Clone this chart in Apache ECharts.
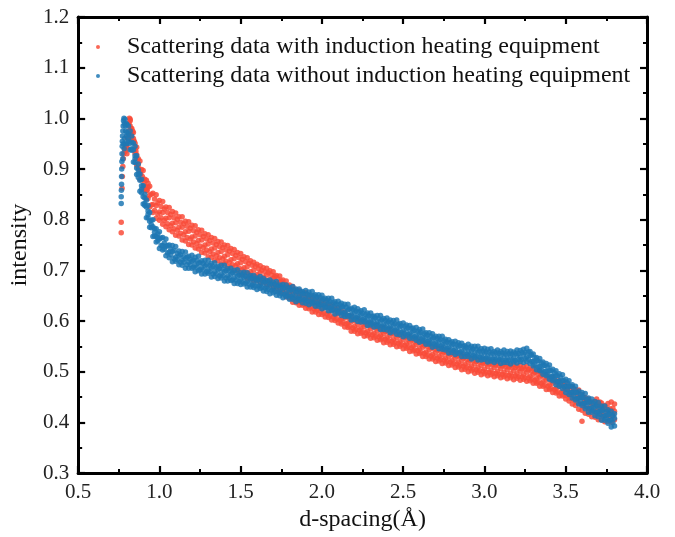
<!DOCTYPE html>
<html>
<head>
<meta charset="utf-8">
<script src="https://cdn.jsdelivr.net/npm/echarts@6/dist/echarts.min.js"></script>
<style>html,body{margin:0;padding:0;background:#fff}#c{width:675px;height:537px}</style>
</head>
<body>
<div id="c"></div>
<script>
// d-spacing sample grids (Å)
const dGrid = [
0.80,0.82,0.84,0.86,0.88,0.90,0.92,0.94,0.96,0.98,
1.00,1.02,1.04,1.06,1.08,1.10,1.12,1.14,1.16,1.18,
1.20,1.22,1.24,1.26,1.28,1.30,1.32,1.34,1.36,1.38,
1.40,1.42,1.44,1.46,1.48,1.50,1.52,1.54,1.56,1.58,
1.60,1.62,1.64,1.66,1.68,1.70,1.72,1.74,1.76,1.78,
1.80,1.82,1.84,1.86,1.88,1.90,1.92,1.94,1.96,1.98,
2.00,2.02,2.04,2.06,2.08,2.10,2.12,2.14,2.16,2.18,
2.20,2.22,2.24,2.26,2.28,2.30,2.32,2.34,2.36,2.38,
2.40,2.42,2.44,2.46,2.48,2.50,2.52,2.54,2.56,2.58,
2.60,2.62,2.64,2.66,2.68,2.70,2.72,2.74,2.76,2.78,
2.80,2.82,2.84,2.86,2.88,2.90,2.92,2.94,2.96,2.98,
3.00,3.02,3.04,3.06,3.08,3.10,3.12,3.14,3.16,3.18,
3.20,3.22,3.24,3.26,3.28,3.30,3.32,3.34,3.36,3.38,
3.40,3.42,3.44,3.46,3.48,3.50,3.52,3.54,3.56,3.58,
3.60,3.62,3.64,3.66,3.68,3.70,3.72,3.74,3.76,3.78,
3.80];
const dGridB = [
0.81,0.83,0.85,0.87,0.89,0.91,0.93,0.95,0.97,0.99,
1.01,1.03,1.05,1.07,1.09,1.11,1.13,1.15,1.17,1.19,
1.21,1.23,1.25,1.27,1.29,1.31,1.33,1.35,1.37,1.39,
1.41,1.43,1.45,1.47,1.49,1.51,1.53,1.55,1.57,1.59,
1.61,1.63,1.65,1.67,1.69,1.71,1.73,1.75,1.77,1.79,
1.81,1.83,1.85,1.87,1.89,1.91,1.93,1.95,1.97,1.99,
2.01,2.03,2.05,2.07,2.09,2.11,2.13,2.15,2.17,2.19,
2.21,2.23,2.25,2.27,2.29,2.31,2.33,2.35,2.37,2.39,
2.41,2.43,2.45,2.47,2.49,2.51,2.53,2.55,2.57,2.59,
2.61,2.63,2.65,2.67,2.69,2.71,2.73,2.75,2.77,2.79,
2.81,2.83,2.85,2.87,2.89,2.91,2.93,2.95,2.97,2.99,
3.01,3.03,3.05,3.07,3.09,3.11,3.13,3.15,3.17,3.19,
3.21,3.23,3.25,3.27,3.29,3.31,3.33,3.35,3.37,3.39,
3.41,3.43,3.45,3.47,3.49,3.51,3.53,3.55,3.57,3.59,
3.61,3.63,3.65,3.67,3.69,3.71,3.73,3.75,3.77,3.79];

// Scattering data WITH induction heating equipment (red)
const redUpper = [
0.962,0.998,0.972,0.943,0.916,0.897,0.878,0.866,0.852,0.849,
0.838,0.836,0.825,0.824,0.816,0.813,0.806,0.806,0.797,0.796,
0.789,0.788,0.780,0.779,0.772,0.770,0.765,0.763,0.757,0.756,
0.750,0.749,0.743,0.741,0.735,0.733,0.727,0.725,0.719,0.716,
0.712,0.709,0.705,0.704,0.699,0.697,0.690,0.689,0.681,0.679,
0.671,0.668,0.661,0.660,0.655,0.656,0.649,0.648,0.642,0.643,
0.638,0.638,0.632,0.632,0.626,0.626,0.619,0.618,0.611,0.610,
0.604,0.605,0.600,0.600,0.595,0.596,0.591,0.592,0.587,0.587,
0.582,0.583,0.578,0.579,0.574,0.575,0.570,0.570,0.565,0.565,
0.560,0.560,0.554,0.555,0.549,0.550,0.545,0.546,0.541,0.542,
0.537,0.538,0.533,0.534,0.529,0.530,0.526,0.527,0.523,0.524,
0.520,0.522,0.518,0.520,0.516,0.518,0.514,0.516,0.512,0.514,
0.511,0.513,0.509,0.511,0.506,0.507,0.501,0.501,0.495,0.495,
0.489,0.489,0.482,0.482,0.476,0.476,0.471,0.470,0.465,0.464,
0.455,0.449,0.446,0.440,0.441,0.436,0.438,0.433,0.437,0.440,
0.436];
const redHi2 = [
0.988,0.980,0.951,0.920,0.899,0.880,0.864,0.850,0.841,0.833,
0.826,0.821,0.814,0.810,0.804,0.801,0.795,0.792,0.787,0.783,
0.778,0.775,0.770,0.767,0.762,0.759,0.754,0.751,0.747,0.745,
0.740,0.738,0.733,0.730,0.725,0.722,0.717,0.714,0.710,0.708,
0.703,0.700,0.697,0.695,0.691,0.688,0.683,0.679,0.673,0.669,
0.663,0.659,0.654,0.653,0.649,0.647,0.643,0.640,0.637,0.636,
0.632,0.630,0.626,0.624,0.620,0.618,0.613,0.610,0.605,0.602,
0.599,0.598,0.594,0.593,0.590,0.589,0.586,0.585,0.581,0.580,
0.577,0.576,0.573,0.572,0.569,0.568,0.564,0.563,0.559,0.558,
0.554,0.552,0.549,0.547,0.544,0.543,0.540,0.539,0.536,0.535,
0.532,0.531,0.528,0.527,0.524,0.523,0.521,0.520,0.518,0.517,
0.515,0.515,0.513,0.513,0.511,0.511,0.509,0.509,0.507,0.508,
0.506,0.506,0.504,0.504,0.501,0.499,0.495,0.493,0.489,0.487,
0.483,0.481,0.476,0.474,0.470,0.468,0.463,0.460,0.455,0.452,
0.447,0.444,0.439,0.437,0.433,0.432,0.429,0.428,0.427,0.428];
const redMid = [
0.945,0.985,0.955,0.928,0.895,0.880,0.857,0.848,0.830,0.828,
0.815,0.814,0.803,0.804,0.793,0.794,0.785,0.785,0.776,0.777,
0.766,0.768,0.759,0.760,0.750,0.752,0.742,0.744,0.735,0.737,
0.728,0.731,0.721,0.723,0.713,0.715,0.705,0.707,0.697,0.700,
0.692,0.695,0.687,0.691,0.682,0.684,0.674,0.676,0.665,0.666,
0.655,0.655,0.645,0.648,0.640,0.643,0.634,0.636,0.627,0.631,
0.623,0.626,0.617,0.620,0.611,0.614,0.604,0.606,0.596,0.598,
0.589,0.593,0.585,0.588,0.580,0.584,0.576,0.580,0.572,0.575,
0.567,0.571,0.563,0.567,0.559,0.563,0.555,0.558,0.550,0.553,
0.545,0.548,0.539,0.543,0.534,0.538,0.530,0.534,0.526,0.530,
0.522,0.526,0.518,0.522,0.514,0.518,0.511,0.515,0.508,0.512,
0.505,0.510,0.503,0.508,0.501,0.506,0.499,0.504,0.497,0.502,
0.496,0.501,0.494,0.499,0.491,0.495,0.486,0.489,0.480,0.483,
0.474,0.477,0.467,0.470,0.461,0.464,0.454,0.456,0.446,0.448,
0.436,0.440,0.428,0.432,0.422,0.427,0.421,0.425,0.418,0.424,
0.422];
const redLo2 = [
0.962,0.962,0.931,0.902,0.879,0.860,0.842,0.829,0.818,0.811,
0.804,0.799,0.792,0.788,0.782,0.779,0.773,0.770,0.765,0.762,
0.756,0.753,0.748,0.745,0.740,0.737,0.732,0.729,0.725,0.723,
0.718,0.716,0.711,0.709,0.704,0.701,0.697,0.693,0.690,0.688,
0.686,0.684,0.681,0.679,0.675,0.672,0.667,0.663,0.657,0.653,
0.647,0.643,0.638,0.637,0.633,0.631,0.627,0.624,0.621,0.620,
0.616,0.614,0.610,0.608,0.604,0.602,0.597,0.594,0.589,0.586,
0.583,0.582,0.578,0.577,0.574,0.573,0.570,0.569,0.565,0.564,
0.561,0.560,0.557,0.556,0.553,0.552,0.548,0.547,0.543,0.542,
0.538,0.536,0.533,0.531,0.528,0.527,0.524,0.523,0.520,0.519,
0.516,0.515,0.512,0.511,0.508,0.507,0.505,0.504,0.502,0.501,
0.499,0.499,0.497,0.497,0.495,0.495,0.493,0.493,0.491,0.492,
0.490,0.490,0.488,0.488,0.485,0.483,0.479,0.477,0.473,0.471,
0.467,0.465,0.460,0.458,0.454,0.452,0.447,0.444,0.439,0.436,
0.431,0.428,0.423,0.421,0.417,0.416,0.413,0.414,0.411,0.413];
const redLower = [
0.930,0.968,0.938,0.908,0.880,0.860,0.842,0.825,0.814,0.803,
0.799,0.791,0.786,0.780,0.776,0.769,0.768,0.760,0.758,0.751,
0.750,0.744,0.742,0.735,0.734,0.727,0.726,0.720,0.719,0.713,
0.713,0.707,0.706,0.699,0.699,0.692,0.691,0.684,0.684,0.679,
0.680,0.676,0.677,0.672,0.671,0.665,0.663,0.657,0.655,0.648,
0.645,0.637,0.636,0.631,0.631,0.625,0.624,0.618,0.618,0.613,
0.613,0.608,0.607,0.602,0.601,0.596,0.594,0.588,0.587,0.580,
0.580,0.575,0.576,0.570,0.571,0.566,0.567,0.562,0.563,0.557,
0.558,0.553,0.554,0.549,0.550,0.545,0.546,0.540,0.541,0.535,
0.536,0.530,0.530,0.525,0.525,0.520,0.521,0.516,0.517,0.512,
0.513,0.508,0.509,0.504,0.505,0.500,0.502,0.497,0.499,0.494,
0.496,0.492,0.494,0.490,0.492,0.488,0.490,0.486,0.488,0.484,
0.487,0.483,0.485,0.481,0.482,0.477,0.477,0.471,0.471,0.465,
0.465,0.459,0.458,0.452,0.452,0.446,0.442,0.436,0.433,0.426,
0.424,0.418,0.416,0.411,0.410,0.405,0.405,0.401,0.402,0.400,
0.405];
const redExtraD = [0.765,0.765,0.770,0.772,0.775,0.778,0.780,0.785,0.790,0.795,0.800,0.805,0.810,0.812,0.815,0.820,0.825,0.830,0.835,0.840,0.845,0.850,0.855,0.860,0.870,0.875,0.885,0.895,0.905,0.915,0.925,0.930,3.600,3.690,3.710];
const redExtraI = [0.774,0.795,0.862,0.885,0.905,0.920,0.930,0.940,0.935,0.945,0.940,0.960,0.975,0.990,1.000,0.995,0.980,0.970,0.975,0.960,0.955,0.940,0.935,0.920,0.910,0.900,0.890,0.885,0.870,0.865,0.858,0.872,0.402,0.446,0.440];

// Scattering data WITHOUT induction heating equipment (blue)
const blueUpper = [
0.988,0.975,0.951,0.926,0.890,0.867,0.839,0.814,0.800,0.782,
0.776,0.765,0.762,0.750,0.749,0.747,0.738,0.737,0.736,0.728,
0.730,0.726,0.728,0.719,0.720,0.720,0.714,0.715,0.708,0.710,
0.710,0.703,0.704,0.700,0.701,0.695,0.696,0.695,0.690,0.690,
0.685,0.688,0.684,0.680,0.681,0.677,0.678,0.671,0.672,0.671,
0.666,0.668,0.663,0.663,0.658,0.660,0.657,0.658,0.652,0.652,
0.651,0.645,0.645,0.645,0.638,0.639,0.635,0.633,0.633,0.625,
0.627,0.624,0.620,0.622,0.616,0.616,0.610,0.611,0.611,0.605,
0.606,0.602,0.601,0.602,0.595,0.596,0.592,0.591,0.586,0.587,
0.583,0.584,0.577,0.577,0.575,0.570,0.570,0.570,0.564,0.563,
0.559,0.560,0.557,0.556,0.551,0.554,0.550,0.550,0.550,0.545,
0.546,0.544,0.545,0.540,0.543,0.540,0.543,0.540,0.541,0.539,
0.543,0.542,0.544,0.546,0.540,0.535,0.528,0.526,0.519,0.516,
0.513,0.505,0.502,0.496,0.494,0.485,0.482,0.474,0.471,0.462,
0.459,0.457,0.448,0.446,0.441,0.439,0.432,0.432,0.425,0.422,
0.417];
const blueHi2 = [
0.969,0.953,0.926,0.898,0.867,0.843,0.817,0.799,0.782,0.772,
0.764,0.754,0.749,0.742,0.739,0.733,0.731,0.727,0.726,0.722,
0.720,0.719,0.715,0.714,0.711,0.710,0.707,0.706,0.703,0.702,
0.699,0.698,0.695,0.694,0.691,0.691,0.688,0.687,0.684,0.683,
0.681,0.680,0.677,0.676,0.673,0.672,0.669,0.668,0.665,0.664,
0.661,0.660,0.657,0.657,0.654,0.653,0.651,0.650,0.647,0.646,
0.643,0.641,0.638,0.636,0.633,0.632,0.628,0.627,0.623,0.622,
0.619,0.618,0.615,0.613,0.610,0.609,0.606,0.605,0.602,0.601,
0.598,0.597,0.594,0.593,0.590,0.589,0.586,0.585,0.581,0.580,
0.577,0.575,0.572,0.570,0.567,0.566,0.563,0.561,0.558,0.557,
0.554,0.553,0.551,0.550,0.547,0.547,0.544,0.544,0.541,0.541,
0.539,0.539,0.537,0.538,0.536,0.537,0.535,0.536,0.535,0.536,
0.536,0.538,0.538,0.539,0.533,0.527,0.521,0.517,0.512,0.508,
0.502,0.498,0.492,0.488,0.482,0.478,0.471,0.466,0.459,0.455,
0.449,0.445,0.440,0.437,0.432,0.429,0.424,0.421,0.416,0.413];
const blueMid = [
0.972,0.951,0.938,0.902,0.878,0.845,0.825,0.797,0.786,0.767,
0.762,0.749,0.747,0.736,0.737,0.726,0.729,0.720,0.723,0.716,
0.718,0.710,0.714,0.705,0.709,0.701,0.705,0.697,0.701,0.693,
0.697,0.689,0.693,0.685,0.689,0.682,0.686,0.678,0.682,0.674,
0.679,0.671,0.675,0.667,0.671,0.663,0.667,0.659,0.663,0.655,
0.659,0.651,0.655,0.648,0.652,0.644,0.649,0.641,0.645,0.637,
0.641,0.633,0.636,0.628,0.631,0.623,0.627,0.618,0.622,0.613,
0.617,0.609,0.613,0.605,0.608,0.600,0.604,0.596,0.600,0.592,
0.596,0.588,0.592,0.584,0.588,0.580,0.584,0.576,0.580,0.571,
0.575,0.567,0.570,0.562,0.565,0.557,0.561,0.553,0.556,0.548,
0.552,0.544,0.549,0.541,0.545,0.538,0.542,0.535,0.539,0.532,
0.537,0.530,0.535,0.528,0.534,0.527,0.533,0.526,0.532,0.526,
0.533,0.528,0.535,0.529,0.532,0.520,0.521,0.510,0.511,0.501,
0.502,0.491,0.492,0.481,0.482,0.471,0.471,0.459,0.459,0.448,
0.449,0.438,0.439,0.429,0.431,0.421,0.423,0.413,0.415,0.405,
0.408];
const blueLo2 = [
0.955,0.937,0.913,0.883,0.853,0.828,0.804,0.784,0.768,0.758,
0.749,0.742,0.734,0.731,0.723,0.721,0.716,0.716,0.711,0.711,
0.706,0.706,0.701,0.701,0.697,0.697,0.693,0.693,0.689,0.689,
0.685,0.685,0.681,0.681,0.678,0.677,0.675,0.673,0.671,0.669,
0.669,0.666,0.665,0.662,0.661,0.658,0.657,0.654,0.653,0.650,
0.649,0.646,0.645,0.643,0.642,0.639,0.639,0.636,0.635,0.632,
0.631,0.627,0.626,0.622,0.621,0.618,0.616,0.613,0.611,0.608,
0.607,0.604,0.603,0.599,0.598,0.595,0.594,0.591,0.590,0.587,
0.586,0.583,0.582,0.579,0.578,0.575,0.574,0.571,0.569,0.566,
0.565,0.561,0.560,0.556,0.555,0.552,0.551,0.547,0.546,0.543,
0.542,0.539,0.539,0.536,0.535,0.533,0.532,0.530,0.529,0.527,
0.527,0.525,0.525,0.524,0.524,0.523,0.523,0.522,0.523,0.522,
0.524,0.524,0.526,0.524,0.520,0.513,0.509,0.503,0.500,0.494,
0.490,0.484,0.480,0.474,0.470,0.464,0.459,0.452,0.447,0.441,
0.437,0.431,0.428,0.423,0.420,0.415,0.412,0.407,0.404,0.399];
const blueLower = [
0.950,0.938,0.914,0.889,0.856,0.831,0.804,0.785,0.767,0.756,
0.743,0.740,0.729,0.725,0.717,0.718,0.711,0.710,0.704,0.704,
0.704,0.697,0.699,0.693,0.693,0.694,0.687,0.688,0.684,0.685,
0.679,0.679,0.680,0.674,0.674,0.672,0.673,0.667,0.667,0.666,
0.662,0.664,0.659,0.658,0.654,0.656,0.651,0.650,0.646,0.648,
0.643,0.643,0.638,0.641,0.636,0.635,0.632,0.634,0.629,0.629,
0.624,0.626,0.620,0.620,0.614,0.616,0.611,0.609,0.609,0.602,
0.603,0.599,0.598,0.598,0.591,0.592,0.588,0.589,0.583,0.583,
0.582,0.577,0.579,0.574,0.573,0.569,0.571,0.566,0.566,0.562,
0.558,0.560,0.554,0.554,0.548,0.550,0.545,0.544,0.543,0.537,
0.538,0.534,0.536,0.530,0.530,0.530,0.525,0.528,0.523,0.523,
0.524,0.519,0.521,0.518,0.521,0.516,0.518,0.518,0.515,0.519,
0.517,0.520,0.518,0.520,0.516,0.511,0.504,0.502,0.495,0.492,
0.485,0.482,0.474,0.471,0.467,0.459,0.455,0.448,0.444,0.436,
0.433,0.427,0.420,0.420,0.413,0.411,0.404,0.404,0.398,0.391,
0.393];
const blueExtraD = [0.765,0.765,0.766,0.767,0.767,0.768,0.769,0.770,0.771,0.772,0.773,0.775,0.777,0.779,0.782,0.785,0.788,0.790,0.792,0.795,0.798,0.785,0.778,0.783,0.775,0.790,0.810,0.810,0.830,0.830,0.850,0.850,0.870,0.870,0.890,0.890,0.910,0.910,0.930,0.930,0.950,0.970,0.990];
const blueExtraI = [0.832,0.845,0.858,0.870,0.885,0.900,0.915,0.930,0.945,0.955,0.965,0.975,0.985,0.995,1.000,0.990,0.998,0.985,0.975,0.990,0.965,0.960,0.950,0.940,0.920,0.950,0.960,0.985,0.940,0.965,0.920,0.945,0.890,0.910,0.860,0.880,0.832,0.850,0.810,0.828,0.790,0.775,0.765];

const xTicks = {min: 0.5, max: 4.0, interval: 0.5};
const yTicks = {min: 0.3, max: 1.2, interval: 0.1};
const seriesNames = ['Scattering data with induction heating equipment', 'Scattering data without induction heating equipment'];

function buildPoints(pairs, exD, exI) {
  const pts = [];
  pairs.forEach(([grid, row]) => row.forEach((v, i) => pts.push([grid[i], v])));
  exD.forEach((d, i) => pts.push([d, exI[i]]));
  return pts;
}

const FONT = '"Liberation Serif", "Times New Roman", serif';
const chart = echarts.init(document.getElementById('c'), null, {renderer: 'canvas'});
const axisCommon = (pos, showLabel, isX) => ({
  type: 'value',
  position: pos,
  min: isX ? xTicks.min : yTicks.min,
  max: isX ? xTicks.max : yTicks.max,
  interval: isX ? xTicks.interval : yTicks.interval,
  axisLine: {show: true, onZero: false, lineStyle: {color: '#000', width: 3}},
  axisTick: {show: true, inside: true, length: 7, lineStyle: {color: '#000', width: 2.2}},
  minorTick: {show: true, splitNumber: 2, length: 4, lineStyle: {color: '#000', width: 2}},
  splitLine: {show: false},
  axisLabel: {show: showLabel, color: '#222', fontFamily: FONT, fontSize: 21,
    margin: 9, formatter: v => v.toFixed(1)}
});

const option = {
  animation: false,
  grid: {left: 78, right: 28, top: 17, bottom: 64, containLabel: false},
  legend: {
    left: 91, top: 30, orient: 'vertical', itemGap: 5,
    icon: 'circle', itemWidth: 4, itemHeight: 4,
    textStyle: {fontFamily: FONT, fontSize: 24, color: '#111', padding: [0, 0, 0, 22], lineHeight: 24},
    data: seriesNames
  },
  xAxis: [
    Object.assign(axisCommon('bottom', true, true), {
      name: 'd-spacing(Å)', nameLocation: 'middle', nameGap: 35,
      nameTextStyle: {fontFamily: FONT, fontSize: 24, color: '#111'}
    }),
    axisCommon('top', false, true)
  ],
  yAxis: [
    Object.assign(axisCommon('left', true, false), {
      name: 'intensity', nameLocation: 'middle', nameGap: 42,
      nameTextStyle: {fontFamily: FONT, fontSize: 24, color: '#111'}
    }),
    axisCommon('right', false, false)
  ],
  series: [
    {
      name: seriesNames[0], type: 'scatter', symbol: 'circle', symbolSize: 5.5,
      itemStyle: {color: '#f94c3a', opacity: 0.85},
      data: buildPoints([[dGrid, redUpper], [dGridB, redHi2], [dGrid, redMid], [dGridB, redLo2], [dGrid, redLower]], redExtraD, redExtraI)
    },
    {
      name: seriesNames[1], type: 'scatter', symbol: 'circle', symbolSize: 5.5,
      itemStyle: {color: '#1f78b4', opacity: 0.85},
      data: buildPoints([[dGrid, blueUpper], [dGridB, blueHi2], [dGrid, blueMid], [dGridB, blueLo2], [dGrid, blueLower]], blueExtraD, blueExtraI)
    }
  ]
};
chart.setOption(option);
</script>
</body>
</html>
